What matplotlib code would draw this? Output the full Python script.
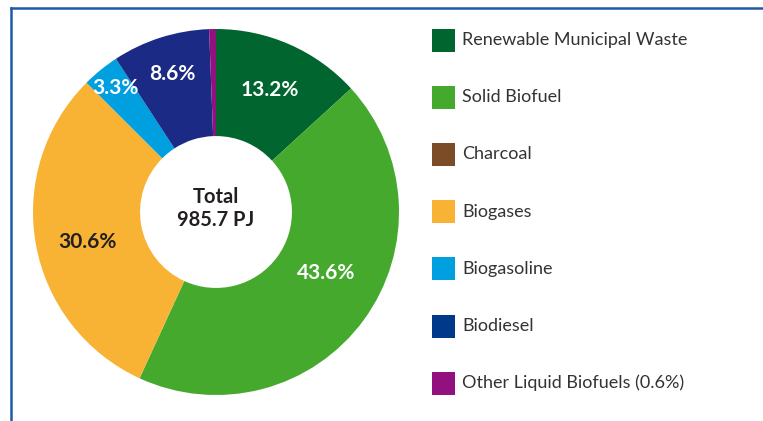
import numpy as np
import matplotlib.pyplot as plt
from matplotlib.patches import Rectangle
from matplotlib.lines import Line2D

# data
categories = ["Renewable Municipal Waste", "Solid Biofuel", "Charcoal", "Biogases",
              "Biogasoline", "Biodiesel", "Other Liquid Biofuels (0.6%)"]
shares = [13.2, 43.6, 0.0, 30.6, 3.3, 8.6, 0.6]
pct_labels = ["13.2%", "43.6%", "", "30.6%", "3.3%", "8.6%", ""]
total_label = "Total\n985.7 PJ"

# styles
pie_colors = ["#00652e", "#45a92d", "#7b4c26", "#f8b334", "#009fe0", "#1b2a84", "#93117e"]
legend_colors = ["#00652e", "#45a92d", "#7b4c26", "#f8b334", "#009fe0", "#00398a", "#93117e"]
label_colors = ["white", "white", "white", "#231f20", "white", "white", "white"]
label_radius = [0.73, 0.69, 0.7, 0.72, 0.87, 0.79, 0.7]
label_shift = [0, 7, 0, 3, 0, 0, 0]  # degrees, counter-clockwise

W, H = 763, 421
fig = plt.figure(figsize=(W / 100, H / 100), dpi=100)

# frame lines (blue top/left border)
fig.add_artist(Line2D([11 / W, 1.0], [1 - 8 / H, 1 - 8 / H], color="#1f5aa6", lw=1.8))
fig.add_artist(Line2D([11 / W, 11 / W], [0, 1 - 8 / H], color="#1f5aa6", lw=1.8))

# donut axes, centre (216, 212) px, radius 183 px
cx, cy, r = 216, 212, 183
ax = fig.add_axes([(cx - r) / W, 1 - (cy + r) / H, 2 * r / W, 2 * r / H])
wedges, _ = ax.pie(shares, colors=pie_colors, startangle=90, counterclock=False,
                   radius=1.0, wedgeprops=dict(width=0.585, linewidth=0))
ax.set_xlim(-1, 1)
ax.set_ylim(-1, 1)
ax.set_aspect("equal")
ax.axis("off")

font = ["Lato", "DejaVu Sans"]
for w, lab, col, rad, sh in zip(wedges, pct_labels, label_colors, label_radius, label_shift):
    if not lab:
        continue
    ang = np.deg2rad((w.theta1 + w.theta2) / 2 + sh)
    ax.text(rad * np.cos(ang), rad * np.sin(ang), lab, ha="center", va="center",
            color=col, fontsize=15, fontweight="bold", family=font)

ax.text(0, 0.02, total_label, ha="center", va="center", color="#231f20",
        fontsize=14.5, fontweight="bold", family=font, linespacing=1.2)

# legend drawn manually
y0, dy = 40, 57.2
for i, (name, col) in enumerate(zip(categories, legend_colors)):
    yc = y0 + i * dy
    fig.add_artist(Rectangle((432 / W, 1 - (yc + 11.5) / H), 23 / W, 23 / H,
                             facecolor=col, edgecolor="none"))
    fig.text(462 / W, 1 - yc / H, name, ha="left", va="center", color="#333333",
             fontsize=13, family=font)

fig.savefig("out.png", dpi=100)
